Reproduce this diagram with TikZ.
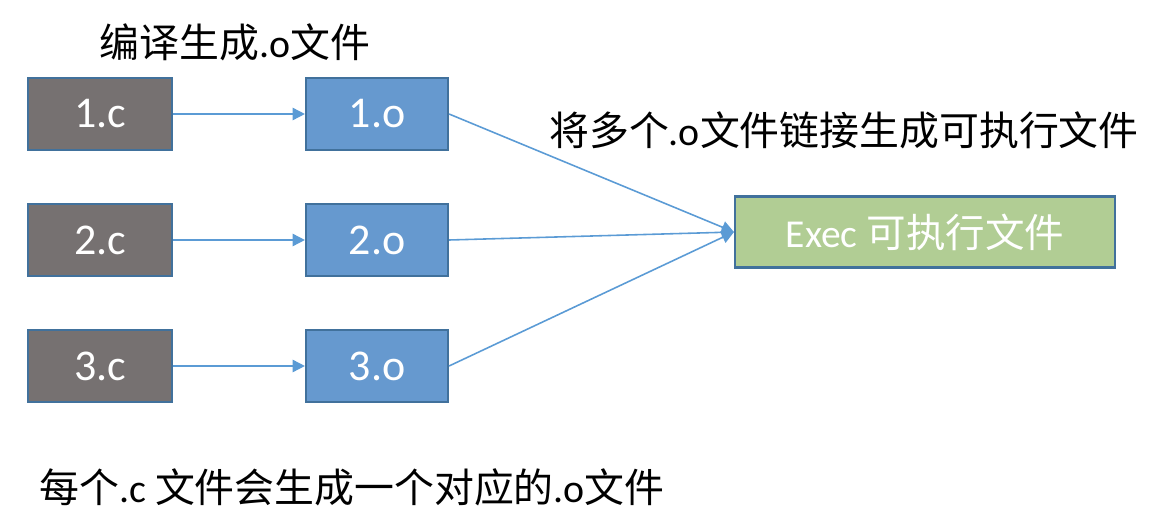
\documentclass[tikz,border=0pt]{standalone}
\usepackage{fontspec}
\setmainfont{Carlito}
\newfontfamily\cjk{Noto Sans CJK SC}
\usetikzlibrary{arrows.meta}
\definecolor{srcgray}{HTML}{767171}
\definecolor{objblue}{HTML}{6699CF}
\definecolor{exegreen}{HTML}{B1CD94}
\definecolor{edgeblue}{HTML}{41719C}
\definecolor{lineblue}{HTML}{5B9BD5}
\tikzset{
	box/.style={draw=edgeblue, line width=1.2pt, text=white, minimum height=72*0.02cm,
		font=\fontsize{25}{29}\selectfont, inner sep=0pt},
	srcbox/.style={box, fill=srcgray, minimum width=144*0.02cm},
	objbox/.style={box, fill=objblue, minimum width=142*0.02cm},
	exebox/.style={box, fill=exegreen, minimum width=380*0.02cm, minimum height=71*0.02cm,
		font=\fontsize{22.5}{26}\selectfont},
	note/.style={font=\fontsize{22.7}{26}\selectfont, inner sep=0pt},
	link/.style={draw=lineblue, line width=0.9pt, -{Triangle[length=7pt,width=7pt]}}
}

\begin{document}
\begin{tikzpicture}[x=0.02cm,y=-0.02cm]

	\useasboundingbox (0,0) rectangle (1176,520);

	\node[srcbox] (c1) at (100,114) {1.c};
	\node[srcbox] (c2) at (100,240) {2.c};
	\node[srcbox] (c3) at (100,366) {3.c};

	\node[objbox] (o1) at (377,114) {1.o};
	\node[objbox] (o2) at (377,240) {2.o};
	\node[objbox] (o3) at (377,366) {3.o};

	\node[exebox] (exec) at (925,232) {Exec {\cjk 可执行文件}};

	\node[note] (compile) at (235,42) {{\cjk 编译生成}.o{\cjk 文件}};
	\node[note] (linking) at (844,130) {{\cjk 将多个}.o{\cjk 文件链接生成可执行文件}};
	\node[note] (each) at (352,487) {{\cjk 每个}.c {\cjk 文件会生成一个对应的}.o{\cjk 文件}};

	\foreach \i in {1,2,3}
	{
		\path[link] (c\i) -- (o\i);
		\path[link] (o\i.east) -- (exec.west);
	};
\end{tikzpicture}
\end{document}
